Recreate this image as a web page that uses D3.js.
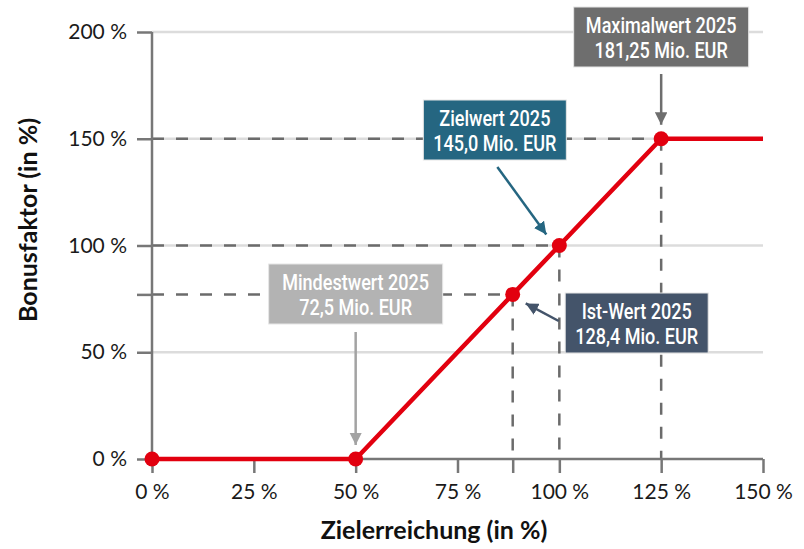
<!DOCTYPE html>
<html>
<head>
<meta charset="utf-8">
<script src="https://cdn.jsdelivr.net/npm/d3@7"></script>
<style>
  body { margin: 0; background: #fff; }
  svg text { font-family: Lato, "Open Sans", sans-serif; }
  svg text.box-text { font-family: Roboto, "Liberation Sans", sans-serif; }
</style>
</head>
<body>
<svg id="chart" width="804" height="549"></svg>
<script>
// Data
const xTicks = [0, 25, 50, 75, 100, 125, 150]
const yTicks = [0, 50, 100, 150, 200]
const zielerreichung = [0, 50, 88.55, 100, 125, 150]
const bonusfaktor = [0, 0, 77.1, 100, 150, 150]
const markerCount = 5 // no dot at the last point
const xTitle = "Zielerreichung (in %)"
const yTitle = "Bonusfaktor (in %)"

// annotation texts
const annoNames = ["Maximalwert 2025", "Zielwert 2025", "Mindestwert 2025", "Ist-Wert 2025"]
const annoAmounts = ["181,25 Mio. EUR", "145,0 Mio. EUR", "72,5 Mio. EUR", "128,4 Mio. EUR"]

let svg = d3.select("#chart")
let margin = {top: 32, right: 41, bottom: 90, left: 152}
let width = +svg.attr("width") - margin.left - margin.right
let height = +svg.attr("height") - margin.top - margin.bottom
let g = svg.append("g").attr("transform", "translate(" + margin.left + "," + margin.top + ")")

let x = d3.scaleLinear().domain([0, 150]).range([0, width])
let y = d3.scaleLinear().domain([0, 200]).range([height, 0])

const axisColor = "#777777"
const dashColor = "#6b6b6b"
const red = "#e2000f"

// gridlines
g.append("g")
  .selectAll("line")
  .data(yTicks.filter(d => d > 0))
  .enter().append("line")
    .attr("x1", 0).attr("x2", width)
    .attr("y1", d => y(d)).attr("y2", d => y(d))
    .attr("stroke", "#dcdcdc")
    .attr("stroke-width", 2.5)

// dashed reference lines (skip the last point, it is only the plateau)
let refPts = zielerreichung.slice(2, 5).map((v, i) => ({x: v, y: bonusfaktor[i + 2]}))

g.append("g").selectAll("line")
  .data(refPts)
  .enter().append("line")
    .attr("x1", 0).attr("x2", d => x(d.x))
    .attr("y1", d => y(d.y)).attr("y2", d => y(d.y))
    .attr("stroke", dashColor)
    .attr("stroke-width", 2.5)
    .attr("stroke-dasharray", "12,12")

g.append("g").selectAll("line")
  .data(refPts)
  .enter().append("line")
    .attr("x1", d => x(d.x)).attr("x2", d => x(d.x))
    .attr("y1", d => y(d.y)).attr("y2", height)
    .attr("stroke", dashColor)
    .attr("stroke-width", 2.5)
    .attr("stroke-dasharray", "12,12")

// axes
let xAxis = g.append("g")
  .attr("transform", "translate(0," + height + ")")
  .call(d3.axisBottom(x)
    .tickValues(xTicks.concat([zielerreichung[2]]))
    .tickSize(14)
    .tickPadding(11)
    .tickFormat(d => xTicks.includes(d) ? d + " %" : ""))

let yAxis = g.append("g")
  .call(d3.axisLeft(y)
    .tickValues(yTicks.concat([bonusfaktor[2]]))
    .tickSize(15)
    .tickPadding(10)
    .tickFormat(d => yTicks.includes(d) ? d + " %" : ""))

;[xAxis, yAxis].forEach(a => {
  a.select(".domain").attr("stroke", axisColor).attr("stroke-width", 2.5)
  a.selectAll(".tick line").attr("stroke", axisColor).attr("stroke-width", 2.5)
  a.selectAll(".tick text")
    .attr("fill", "#1a1a1a")
    .style("font-size", "21px")
    .style("font-family", "Lato, sans-serif")
})
xAxis.select(".domain").attr("d", "M0,0H" + width)
yAxis.select(".domain").attr("d", "M0," + height + "V0")

// axis titles
svg.append("text")
  .attr("x", 434)
  .attr("y", 539)
  .attr("text-anchor", "middle")
  .style("font-size", "25px")
  .style("font-weight", "bold")
  .attr("fill", "#111")
  .text(xTitle)

svg.append("text")
  .attr("transform", "translate(37,220) rotate(-90)")
  .attr("text-anchor", "middle")
  .style("font-size", "25px")
  .style("font-weight", "bold")
  .attr("fill", "#111")
  .text(yTitle)

// the bonus curve
let line = d3.line()
  .x((d, i) => x(zielerreichung[i]))
  .y((d, i) => y(bonusfaktor[i]))

g.append("path")
  .datum(zielerreichung)
  .attr("d", line)
  .attr("fill", "none")
  .attr("stroke", red)
  .attr("stroke-width", 4.5)
  .attr("stroke-linejoin", "round")

g.append("g").selectAll("circle")
  .data(zielerreichung.slice(0, markerCount))
  .enter().append("circle")
    .attr("cx", d => x(d))
    .attr("cy", (d, i) => y(bonusfaktor[i]))
    .attr("r", 7.5)
    .attr("fill", red)

// annotation boxes: box centre (px, relative to plot), size, colour, arrow start/end
let annoLayout = [
  {cx: x(125), cy: 5, w: 175, h: 60, fill: "#6e6e6e", from: [x(125), 42], to: [x(125), y(150) - 14]},
  {cx: x(100) - 64.5, cy: 98, w: 143, h: 60, fill: "#256681", from: [x(100) - 62, 135], to: [x(100) - 13, y(100) - 11]},
  {cx: x(50), cy: 262, w: 174, h: 60, fill: "#b3b3b3", from: [x(50), 300], to: [x(50), y(0) - 14]},
  {cx: x(88.55) + 124, cy: 291, w: 143, h: 60, fill: "#44546a", from: [x(88.55) + 46, 289], to: [x(88.55) + 13, y(77.1) + 9]}
]
const arrowColor = f => f === "#b3b3b3" ? "#a3a3a3" : f

let defs = svg.append("defs")
annoLayout.forEach((a, i) => {
  defs.append("marker")
    .attr("id", "arrow" + i)
    .attr("viewBox", "0 0 10 10")
    .attr("refX", 10).attr("refY", 5)
    .attr("markerWidth", 5).attr("markerHeight", 5)
    .attr("markerUnits", "strokeWidth")
    .attr("orient", "auto")
  .append("path")
    .attr("d", "M0,0L10,5L0,10Z")
    .attr("fill", arrowColor(a.fill))
})

let anno = g.append("g").selectAll("g")
  .data(annoLayout)
  .enter().append("g")

anno.append("line")
  .attr("x1", d => d.from[0]).attr("y1", d => d.from[1])
  .attr("x2", d => d.to[0]).attr("y2", d => d.to[1])
  .attr("stroke", d => arrowColor(d.fill))
  .attr("stroke-width", 2.5)
  .attr("marker-end", (d, i) => "url(#arrow" + i + ")")

anno.append("rect")
  .attr("x", d => d.cx - d.w / 2)
  .attr("y", d => d.cy - d.h / 2)
  .attr("width", d => d.w)
  .attr("height", d => d.h)
  .attr("fill", d => d.fill)
  .attr("stroke", "#e6e6e6")
  .attr("stroke-width", 1)

// two lines of white text per box, squeezed to the condensed look of the original
const textWidth = 0.82
const squeeze = function () {
  d3.select(this)
    .attr("textLength", this.getComputedTextLength() * textWidth)
    .attr("lengthAdjust", "spacingAndGlyphs")
}

anno.append("text")
  .attr("class", "box-text")
  .attr("x", d => d.cx)
  .attr("y", d => d.cy - 4)
  .attr("text-anchor", "middle")
  .attr("fill", "#fff")
  .style("font-size", "22px")
  .style("font-weight", 500)
  .text((d, i) => annoNames[i])
  .each(squeeze)

anno.append("text")
  .attr("class", "box-text")
  .attr("x", d => d.cx)
  .attr("y", d => d.cy + 21)
  .attr("text-anchor", "middle")
  .attr("fill", "#fff")
  .style("font-size", "22px")
  .style("font-weight", 500)
  .text((d, i) => annoAmounts[i])
  .each(squeeze)
</script>
</body>
</html>
